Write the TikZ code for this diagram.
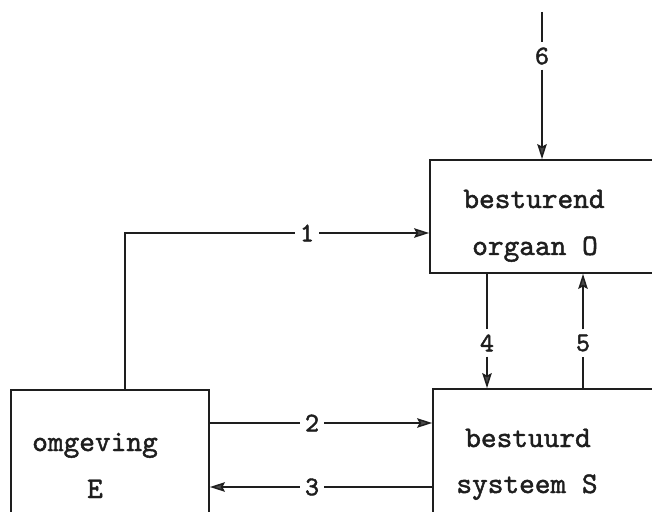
\documentclass[tikz,border=0pt]{standalone}
\usepackage{fontspec}
\newfontfamily\twfont{lmmono10-regular.otf}[RawFeature={embolden=1.5}]
\usetikzlibrary{arrows.meta,calc}
\definecolor{ink}{HTML}{1E1E1E}
\definecolor{tipgray}{HTML}{4A4A4A}
\begin{document}
\begin{tikzpicture}[x=1bp,y=-1bp,
  box/.style={draw=ink, line width=1.8bp, inner sep=0pt, minimum width=#1},
  word/.style={anchor=base, text=ink, font=\twfont\fontsize{30}{34}\selectfont},
  num/.style={text=ink, inner sep=5bp, font=\twfont\fontsize{27}{30}\selectfont},
  flow/.style={draw=ink, line width=1.5bp},
  tip/.style={-{Stealth[length=15bp,width=9.5bp,inset=2.5bp,fill=tipgray]}}]
  \useasboundingbox (0,0) rectangle (652,512);
  \clip (0,0) rectangle (652,512);
  \fill[white] (0,0) rectangle (652,512);

  % blocks
  \node[box=240bp, minimum height=113bp] (O) at (550,216.5) {};
  \node[box=198bp, minimum height=140bp] (E) at (110,460) {};
  \node[box=237bp, minimum height=141bp] (S) at (551.5,459.5) {};

  % block texts
  \node[word] (t1) at (534,208) {besturend};
  \node[word] (t2) at (535,255) {orgaan O};
  \node[word] (t3) at (95,451) {omgeving};
  \node[word] (t4) at (95,498) {E};
  \node[word] (t5) at (528,447) {bestuurd};
  \node[word] (t6) at (527,493) {systeem S};

  % signal numbers
  \node[num] (n1) at (307,233) {1};
  \node[num] (n2) at (312,423) {2};
  \node[num] (n3) at (312,487) {3};
  \node[num] (n4) at (487,343) {4};
  \node[num] (n5) at (583,343) {5};
  \node[num] (n6) at (542,56) {6};
  \coordinate (c1) at (125,233);
  \coordinate (top6) at (542,12);

  % signals
  \draw[flow] (E.north -| c1) -- (c1) -- (n1);
  \draw[flow,tip] (n1) -- (O.west |- n1);
  \draw[flow] (E.east |- n2) -- (n2);
  \draw[flow,tip] (n2) -- (S.west |- n2);
  \draw[flow] (S.west |- n3) -- (n3);
  \draw[flow,tip] (n3) -- (E.east |- n3);
  \draw[flow] (O.south -| n4) -- (n4);
  \draw[flow,tip] (n4) -- (S.north -| n4);
  \draw[flow] (S.north -| n5) -- (n5);
  \draw[flow,tip] (n5) -- (O.south -| n5);
  \draw[flow] (top6) -- (n6);
  \draw[flow,tip] (n6) -- (O.north -| n6);
\end{tikzpicture}
\end{document}
